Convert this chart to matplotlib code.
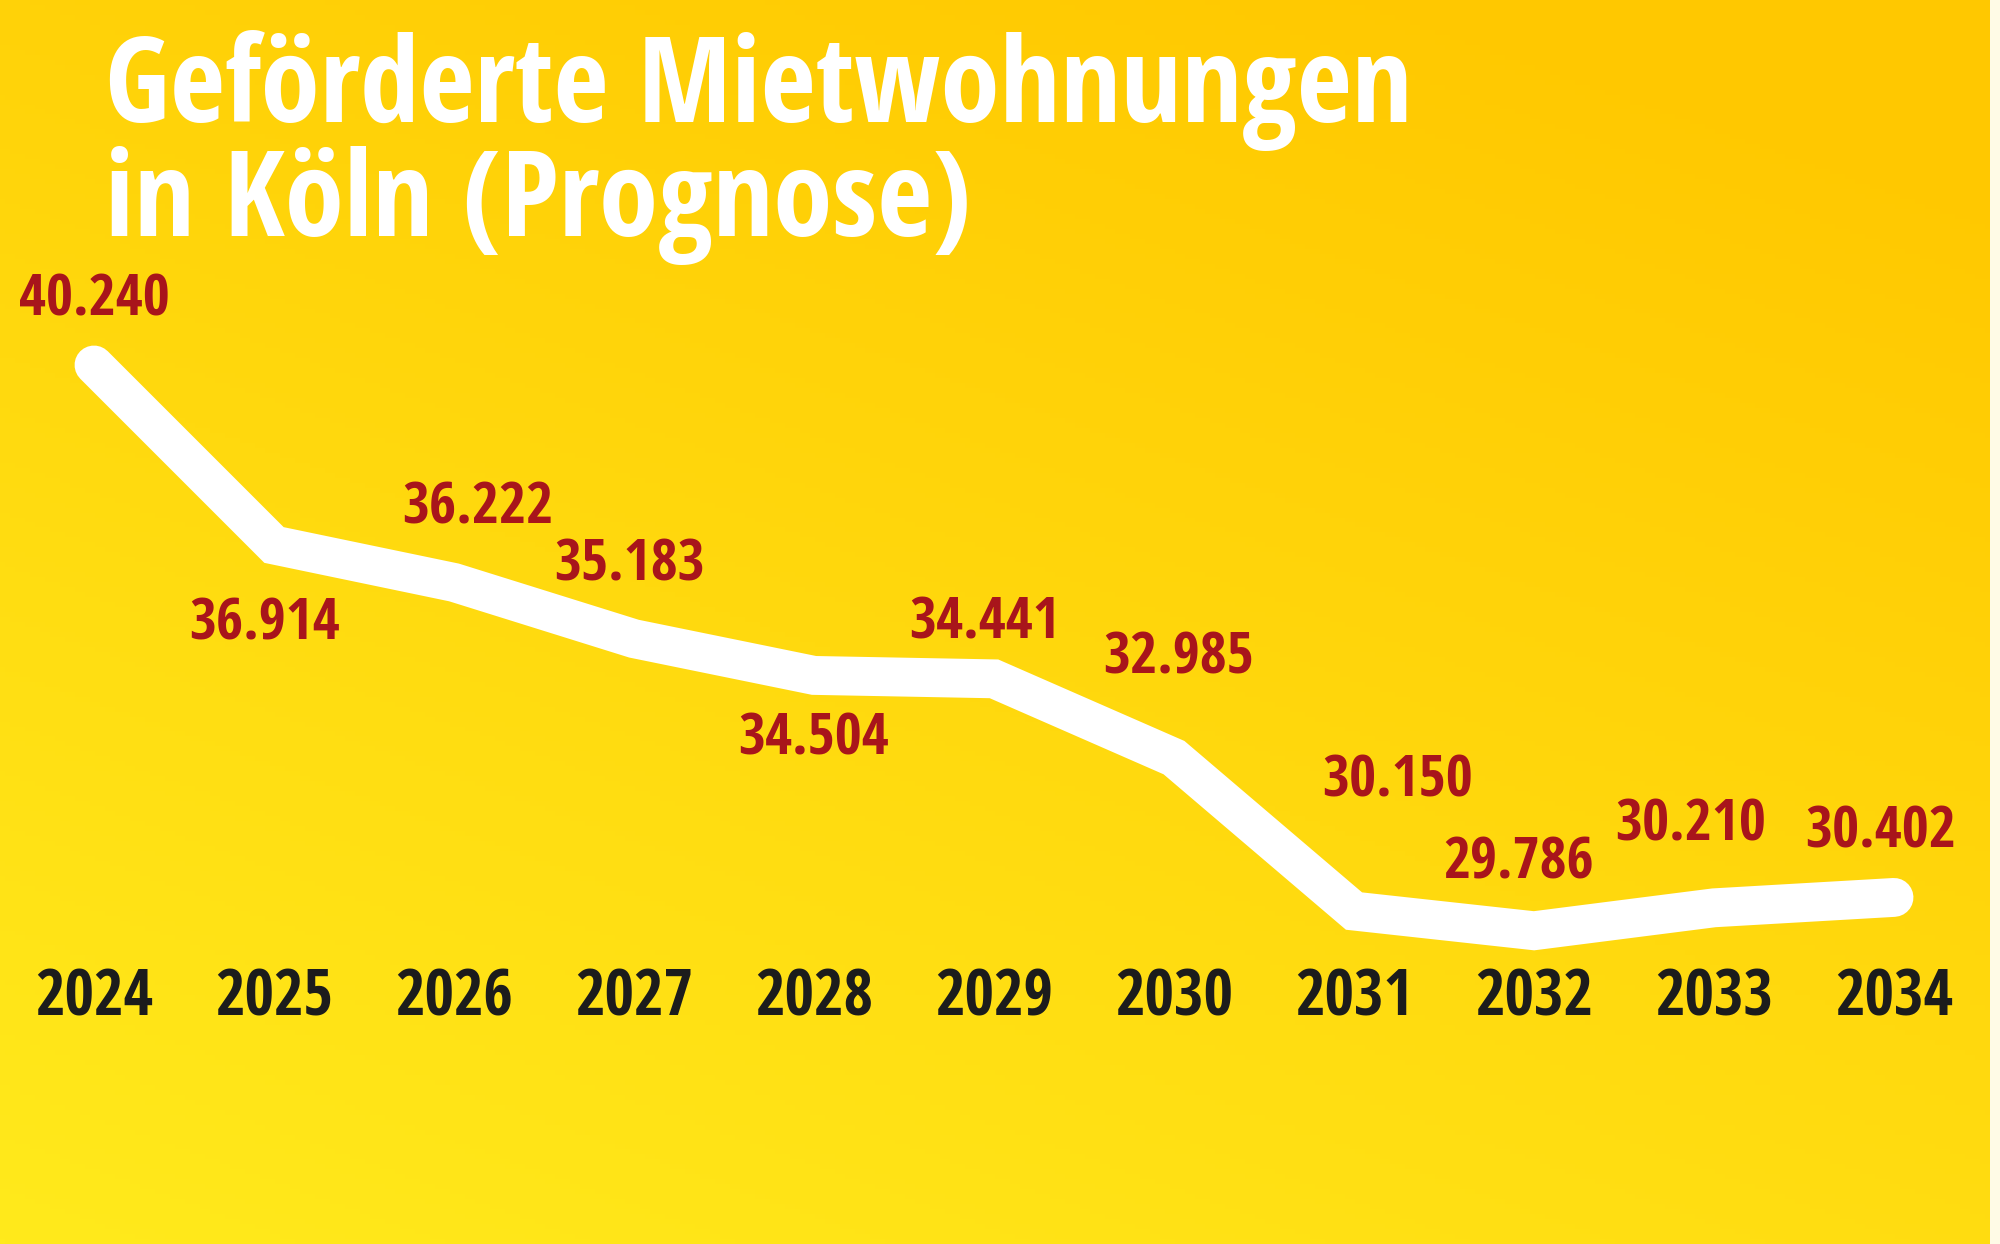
import numpy as np
import matplotlib
matplotlib.use("Agg")
import matplotlib.pyplot as plt
import matplotlib.transforms as mtransforms
from matplotlib.patches import Rectangle

years = [2024, 2025, 2026, 2027, 2028, 2029, 2030, 2031, 2032, 2033, 2034]
wohnungen = [40240, 36914, 36222, 35183, 34504, 34441, 32985, 30150, 29786, 30210, 30402]
value_labels = ['40.240', '36.914', '36.222', '35.183', '34.504', '34.441',
                '32.985', '30.150', '29.786', '30.210', '30.402']
title_lines = ['Geförderte Mietwohnungen', 'in Köln (Prognose)']

# label offsets in pixels (dx, dy) relative to each point
label_offsets = [(0, 64), (-9, -80), (24, 74), (-4, 73), (0, -64), (-9, 55),
                 (5, 99), (44, 130), (-15, 67), (-23, 82), (-13, 65)]

fonts = ['Open Sans Condensed', 'Liberation Sans Narrow', 'DejaVu Sans Condensed', 'Open Sans']
red = '#a8151b'
dark = '#1c1c1c'

fig = plt.figure(figsize=(20, 12.44), dpi=100)

# yellow gradient background (light bottom-left -> deep golden top-right)
bg = fig.add_axes([0, 0, 1, 1])
xx, yy = np.meshgrid(np.linspace(0, 1, 400), np.linspace(0, 1, 250))
t = np.clip(0.4 * xx + 0.7 * yy, 0, 1)
c0 = np.array([255, 234, 28]) / 255
c1 = np.array([255, 200, 0]) / 255
img = c0[None, None, :] * (1 - t[..., None]) + c1[None, None, :] * t[..., None]
bg.imshow(img, origin='lower', extent=[0, 1, 0, 1], aspect='auto')
bg.set_xlim(0, 1)
bg.set_ylim(0, 1)
bg.add_patch(Rectangle((0.995, 0), 0.005, 1, color='#fffbe6', lw=0))
bg.set_axis_off()

ax = fig.add_axes([0.047, 0.2518, 0.9, 0.4548])
ax.set_xlim(2024, 2034)
ax.set_ylim(29786, 40240)
ax.set_axis_off()

ax.plot(years, wohnungen, color='white', lw=28, solid_capstyle='round',
        solid_joinstyle='miter', clip_on=False)

for yr, v, lab, (dx, dy) in zip(years, wohnungen, value_labels, label_offsets):
    ax.annotate(lab, (yr, v), xytext=(dx, dy), textcoords='offset pixels',
                ha='center', va='center', color=red, fontsize=42,
                fontweight='bold', family=fonts, annotation_clip=False)

trans = mtransforms.blended_transform_factory(ax.transData, fig.transFigure)
for yr in years:
    ax.text(yr, 0.197, str(yr), transform=trans, ha='center', va='center',
            color=dark, fontsize=46, fontweight='bold', family=fonts)

fig.text(0.0525, 0.902, title_lines[0], color='white', fontsize=86,
         fontweight='bold', family=fonts, va='baseline', ha='left')
fig.text(0.0525, 0.81, title_lines[1], color='white', fontsize=86,
         fontweight='bold', family=fonts, va='baseline', ha='left')

fig.savefig('out.png', dpi=100)
